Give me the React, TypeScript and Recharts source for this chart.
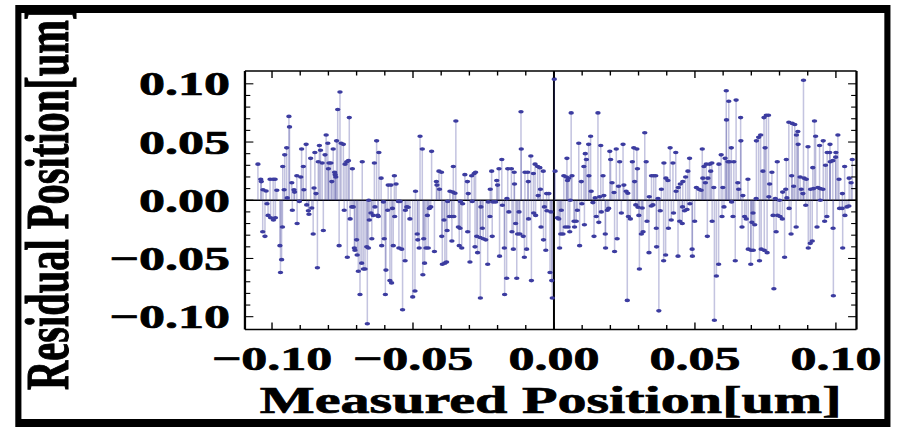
import React from 'react';
import { ScatterChart, Scatter, XAxis, YAxis, ErrorBar, ReferenceLine, Label } from 'recharts';

// the source picture is stretched sideways, so the chart is drawn narrow and scaled in x
const S = 1.53;
const W = 586;
const H = 432;

const FONT = "'Liberation Serif', 'Times New Roman', Times, serif";
const DOT = '#3c3ca0';
const STEM = 'rgba(61, 61, 153, 0.3)';

// measured position [um]
const measured = [
  -0.1050, -0.1040, -0.1038, -0.1033, -0.1032, -0.1025, -0.1021, -0.1018, -0.1014, -0.1007,
  -0.1005, -0.0996, -0.0995, -0.0989, -0.0988, -0.0983, -0.0972, -0.0970, -0.0966, -0.0963,
  -0.0962, -0.0957, -0.0955, -0.0948, -0.0946, -0.0940, -0.0938, -0.0930, -0.0928, -0.0922,
  -0.0920, -0.0912, -0.0911, -0.0903, -0.0898, -0.0895, -0.0889, -0.0887, -0.0879, -0.0877,
  -0.0871, -0.0869, -0.0863, -0.0859, -0.0854, -0.0851, -0.0848, -0.0844, -0.0839, -0.0836,
  -0.0832,
  -0.0828, -0.0822, -0.0818, -0.0812, -0.0808, -0.0802, -0.0800, -0.0798, -0.0791,
  -0.0788, -0.0783, -0.0778, -0.0776, -0.0774, -0.0771, -0.0767, -0.0762, -0.0759, -0.0755,
  -0.0747, -0.0744, -0.0741, -0.0735, -0.0733, -0.0729, -0.0726, -0.0723, -0.0717, -0.0715,
  -0.0712, -0.0708, -0.0706, -0.0700, -0.0698, -0.0694, -0.0688, -0.0682, -0.0680, -0.0676,
  -0.0670, -0.0664, -0.0662, -0.0658, -0.0657, -0.0655, -0.0649, -0.0646, -0.0641, -0.0637,
  -0.0635, -0.0629, -0.0625, -0.0623, -0.0621, -0.0613, -0.0611, -0.0605, -0.0602, -0.0598,
  -0.0596, -0.0590, -0.0588, -0.0582, -0.0578, -0.0576, -0.0570, -0.0566,
  -0.0573, -0.0565, -0.0560, -0.0552, -0.0550, -0.0546, -0.0540, -0.0537, -0.0528, -0.0527,
  -0.0522, -0.0517, -0.0511, -0.0501, -0.0493, -0.0491, -0.0485, -0.0483, -0.0478, -0.0475,
  -0.0467, -0.0465, -0.0462, -0.0459, -0.0454, -0.0449, -0.0446, -0.0442, -0.0437, -0.0434,
  -0.0424, -0.0417, -0.0415, -0.0408, -0.0406, -0.0399, -0.0398, -0.0396, -0.0390, -0.0387,
  -0.0381, -0.0379, -0.0377, -0.0371, -0.0369, -0.0363, -0.0362, -0.0359, -0.0357, -0.0355,
  -0.0351, -0.0348, -0.0339, -0.0336, -0.0333, -0.0332, -0.0327, -0.0324, -0.0316, -0.0307,
  -0.0304, -0.0298,
  -0.0306, -0.0292, -0.0290, -0.0283, -0.0280, -0.0278, -0.0274, -0.0271, -0.0262, -0.0261,
  -0.0259, -0.0254, -0.0251, -0.0242, -0.0235, -0.0233, -0.0227, -0.0226, -0.0221, -0.0219,
  -0.0216, -0.0207, -0.0203, -0.0200, -0.0195, -0.0193, -0.0185, -0.0183, -0.0176, -0.0175,
  -0.0168, -0.0167, -0.0164, -0.0160, -0.0151, -0.0149, -0.0144, -0.0141, -0.0140, -0.0136,
  -0.0132, -0.0129, -0.0124, -0.0121, -0.0117, -0.0116, -0.0109, -0.0105, -0.0103, -0.0097,
  -0.0093, -0.0091, -0.0090, -0.0082, -0.0080, -0.0073, -0.0072, -0.0067, -0.0065, -0.0058,
  -0.0056, -0.0050, -0.0048, -0.0046, -0.0038, -0.0037, -0.0034, -0.0029, -0.0026, -0.0025,
  -0.0018, -0.0014, -0.0011, -0.0008, -0.0006, 0.0001, 0.0004,
  0.0012, 0.0017, 0.0020, 0.0024, 0.0026, 0.0032, 0.0035, 0.0040, 0.0044, 0.0046,
  0.0048, 0.0050, 0.0052, 0.0056, 0.0058, 0.0061, 0.0064, 0.0071, 0.0073, 0.0079,
  0.0083, 0.0088, 0.0091, 0.0097, 0.0099, 0.0106, 0.0108, 0.0111, 0.0115, 0.0123,
  0.0124, 0.0130, 0.0132, 0.0138, 0.0142, 0.0146, 0.0150, 0.0156, 0.0159, 0.0162,
  0.0166, 0.0168, 0.0174, 0.0177, 0.0182, 0.0183, 0.0189, 0.0194, 0.0198, 0.0201,
  0.0206, 0.0213, 0.0215, 0.0221, 0.0224, 0.0229, 0.0233, 0.0239, 0.0245, 0.0248,
  0.0256, 0.0260,
  0.0262, 0.0264, 0.0271, 0.0278, 0.0283, 0.0286, 0.0290, 0.0294, 0.0296, 0.0298,
  0.0301, 0.0303, 0.0310, 0.0313, 0.0316, 0.0322, 0.0327, 0.0330, 0.0337, 0.0338,
  0.0345, 0.0346, 0.0351, 0.0354, 0.0361, 0.0363, 0.0364, 0.0369, 0.0372, 0.0377,
  0.0381, 0.0389, 0.0390, 0.0396, 0.0397, 0.0404, 0.0406, 0.0412, 0.0416, 0.0422,
  0.0424, 0.0432, 0.0433, 0.0440, 0.0441, 0.0446, 0.0448, 0.0455, 0.0456, 0.0457,
  0.0463, 0.0467, 0.0472, 0.0475, 0.0481, 0.0482, 0.0490, 0.0491, 0.0499, 0.0505,
  0.0514, 0.0522, 0.0526,
  0.0528, 0.0532, 0.0537, 0.0540, 0.0544, 0.0546, 0.0552, 0.0556, 0.0560, 0.0561,
  0.0567, 0.0569, 0.0576, 0.0584, 0.0585, 0.0593, 0.0596, 0.0599, 0.0603, 0.0607,
  0.0611, 0.0612, 0.0617, 0.0620, 0.0623, 0.0629, 0.0630, 0.0635, 0.0638, 0.0643,
  0.0646, 0.0652, 0.0655, 0.0662, 0.0663, 0.0667, 0.0670, 0.0676, 0.0682, 0.0688,
  0.0689, 0.0698, 0.0699, 0.0702, 0.0706, 0.0707, 0.0712, 0.0717, 0.0718, 0.0726,
  0.0729, 0.0733, 0.0735, 0.0741, 0.0745, 0.0746, 0.0749, 0.0753, 0.0756, 0.0761,
  0.0762, 0.0765, 0.0773, 0.0777, 0.0780, 0.0785, 0.0788, 0.0792,
  0.0800, 0.0793, 0.0802, 0.0810, 0.0811, 0.0818, 0.0822, 0.0824, 0.0826, 0.0833,
  0.0834, 0.0841, 0.0843, 0.0845, 0.0850, 0.0854, 0.0859, 0.0860, 0.0865, 0.0866,
  0.0873, 0.0877, 0.0883, 0.0885, 0.0887, 0.0893, 0.0895, 0.0901, 0.0902, 0.0909,
  0.0910, 0.0916, 0.0918, 0.0921, 0.0924, 0.0928, 0.0933, 0.0936, 0.0942, 0.0944,
  0.0945, 0.0954, 0.0955, 0.0960, 0.0963, 0.0968, 0.0969, 0.0978, 0.0979, 0.0980,
  0.0989, 0.0990, 0.0991, 0.0999, 0.1000, 0.1007, 0.1011, 0.1013, 0.1022, 0.1023,
  0.1024, 0.1031, 0.1032, 0.1039, 0.1046, 0.1047, 0.1054, 0.1058,
];

// residual position [um]
const residual = [
  0.031, 0.018, 0.016, -0.027, 0.009, -0.031, 0.008, -0.003, -0.013, 0.018,
  -0.015, 0.018, -0.017, 0.018, -0.015, 0.0086, -0.039, -0.062, -0.051, -0.023,
  0.029, 0.009, 0.039, 0.045, 0.002, 0.072, 0.063, 0.015, -0.0086, 0.009,
  0.007, 0.021, -0.020, -0.001, 0.020, 0.044, 0.029, 0.009, 0.048, -0.004,
  -0.009, -0.012, 0.036, -0.0066, -0.029, 0.0105, 0.041, 0.0057, -0.058, 0.033,
  0.047,
  0.043, 0.032, -0.026, 0.039, 0.056, 0.049, 0.027, 0.032, 0.032,
  0.016, 0.044, 0.024, 0.022, 0.020, 0.051, 0.078, -0.039, 0.093, 0.049,
  0.048, -0.0086, 0.031, 0.033, -0.049, 0.034, 0.071, -0.016, -0.0057, 0.027,
  -0.0057, -0.041, -0.043, -0.034, -0.047, -0.061, -0.081, -0.054, 0.033, -0.059,
  -0.059, -0.040, -0.106, -0.041, 0.000, -0.017, -0.011, -0.033, -0.013, 0.032,
  -0.0057, 0.051, -0.013, -0.014, 0.041, 0.019, -0.039, -0.0014, -0.033, -0.081,
  -0.060, -0.0086, 0.013, -0.069, 0.013, -0.071, -0.039, 0.021,
  -0.007, -0.014, 0.014, -0.001, -0.041, -0.001, -0.042, -0.094, -0.052, -0.0086,
  -0.0057, -0.006, -0.016, -0.083, -0.078, 0.0077, -0.029, -0.034, -0.041, 0.055,
  0.044, -0.064, -0.033, -0.054, -0.041, -0.013, -0.041, -0.007, -0.0057, 0.042,
  -0.044, 0.016, 0.013, 0.025, 0.0094, 0.024, -0.031, -0.055, -0.017, -0.054,
  -0.053, -0.026, -0.001, -0.014, 0.0077, -0.014, -0.035, 0.007, 0.029, -0.014,
  0.006, 0.068, -0.023, -0.039, -0.024, -0.001, -0.041, -0.003, 0.022, 0.016,
  0.0057, -0.053,
  -0.027, 0.021, -0.001, 0.023, -0.040, 0.024, -0.031, -0.045, -0.032, -0.084,
  -0.0057, -0.024, -0.033, -0.034, -0.055, -0.0014, -0.014, 0.0094, 0.025, -0.031,
  -0.0014, -0.0014, 0.017, 0.013, 0.027, -0.048, 0.035, -0.0043, -0.041, -0.081,
  -0.067, 0.0014, 0.027, -0.010, 0.027, -0.027, -0.042, 0.024, 0.014, -0.020,
  -0.067, -0.029, -0.010, -0.029, 0.076, 0.044, -0.031, -0.049, 0.024, -0.042,
  0.024, 0.016, -0.016, 0.038, -0.069, 0.023, -0.011, 0.031, -0.013, 0.029,
  0.004, 0.028, 0.0094, -0.023, 0.025, -0.034, -0.0057, -0.043, 0.0057, -0.009,
  0.0057, -0.062, -0.010, -0.069, -0.084, 0.104, 0.025,
  -0.015, -0.016, -0.041, -0.029, -0.0086, -0.029, 0.021, -0.023, 0.020, 0.036,
  0.017, -0.023, 0.019, -0.027, 0.000, 0.075, 0.021, -0.018, -0.023, -0.018,
  -0.0086, 0.049, -0.039, 0.016, -0.003, 0.029, -0.021, 0.040, 0.035, 0.048,
  0.021, 0.055, 0.0077, -0.002, -0.031, 0.002, -0.014, 0.075, -0.019, 0.003,
  0.047, -0.010, 0.021, 0.004, -0.029, -0.041, -0.0086, -0.007, 0.042, 0.035,
  0.015, 0.0066, -0.044, 0.044, -0.033, 0.012, 0.033, -0.011, 0.048, 0.013,
  0.0077, -0.086,
  0.006, -0.014, -0.016, 0.033, 0.045, 0.016, -0.004, 0.044, 0.027, -0.006,
  -0.013, -0.059, -0.029, -0.0066, -0.027, 0.058, 0.033, -0.018, -0.045, 0.003,
  -0.005, 0.021, -0.004, 0.021, 0.021, -0.024, -0.040, 0.0014, -0.095, -0.009,
  0.0094, -0.052, 0.032, -0.047, 0.019, 0.017, -0.024, 0.045, -0.017, 0.032,
  -0.011, 0.041, 0.0077, -0.048, 0.011, -0.018, 0.014, -0.020, -0.0057, 0.016,
  -0.009, 0.020, -0.008, 0.025, 0.036, -0.003, -0.042, -0.048, -0.018, 0.011,
  0.0094, 0.0086, 0.044,
  0.019, 0.029, 0.015, 0.031, -0.031, 0.019, 0.031, 0.025, 0.032, -0.018,
  0.011, -0.103, -0.065, -0.055, 0.031, 0.039, -0.014, 0.011, -0.0057, 0.036,
  0.094, 0.069, 0.033, 0.085, 0.033, 0.045, -0.0014, -0.014, 0.033, -0.052,
  0.086, 0.015, 0.0094, 0.071, 0.051, -0.023, 0.004, -0.014, -0.016, 0.018,
  -0.042, -0.055, -0.043, -0.019, -0.011, -0.043, -0.021, 0.0014, 0.051, 0.054,
  -0.052, 0.056, -0.042, 0.025, 0.071, -0.043, 0.045, 0.073, -0.045, 0.073,
  0.003, 0.014, 0.024, -0.013, -0.076, 0.0014, -0.027, 0.033,
  0.000, -0.013, -0.014, -0.016, 0.007, -0.049, 0.0094, 0.035, 0.002, 0.067,
  -0.007, -0.029, 0.021, 0.066, 0.012, 0.065, -0.023, 0.056, 0.059, 0.048,
  0.020, 0.0094, 0.0057, 0.103, 0.019, -0.0043, 0.018, 0.046, -0.041, -0.037,
  0.0094, -0.035, 0.028, 0.010, 0.068, 0.055, -0.023, 0.011, 0.047, 0.010,
  0.000, 0.0094, 0.051, -0.018, 0.030, -0.014, 0.041, 0.041, 0.048, 0.033,
  0.034, -0.024, -0.082, 0.037, 0.041, 0.056, 0.018, -0.007, -0.007, 0.0057,
  -0.041, 0.029, -0.013, -0.0057, -0.005, 0.019, 0.015, 0.035,
];

const xDomain = [-0.1096, 0.1073];
const yDomain = [-0.111, 0.111];

const frameTicks = [
  -0.10, -0.09, -0.08, -0.07, -0.06, -0.05, -0.04, -0.03, -0.02, -0.01, 0,
  0.01, 0.02, 0.03, 0.04, 0.05, 0.06, 0.07, 0.08, 0.09, 0.10,
];
const labelledTicks = [-0.10, -0.05, 0, 0.05, 0.10];

const data = measured.map((x, i) => {
  const y = residual[i];
  return { x, y, stem: y > 0 ? [y, 0] : [0, -y] };
});

const isLabelled = (v: number) => labelledTicks.some(t => Math.abs(t - v) < 1e-9);
const fmt = (v: number) => (v < -1e-9 ? '\u2212' : '') + Math.abs(v).toFixed(2);

// heavy serif like the original's bold Times
const textStyle = {
  fontFamily: FONT, fontWeight: 700, fontSize: 34, fill: '#000', stroke: '#000', strokeWidth: 0.7,
} as const;

const BottomTick = ({ x, y, payload }: any) => {
  const major = isLabelled(payload.value);
  return (
    <g>
      <line x1={x} y1={y} x2={x} y2={y - (major ? 7 : 4.5)} stroke="#000" strokeWidth={0.9} />
      {major && (
        <text x={x} y={y + 40.5} textAnchor="middle" style={textStyle}>{fmt(payload.value)}</text>
      )}
    </g>
  );
};

const TopTick = ({ x, y, payload }: any) => {
  const major = isLabelled(payload.value);
  return <line x1={x} y1={y} x2={x} y2={y + (major ? 7 : 4.5)} stroke="#000" strokeWidth={0.9} />;
};

const LeftTick = ({ x, y, payload }: any) => {
  const major = isLabelled(payload.value);
  return (
    <g>
      <line x1={x} y1={y} x2={x + (major ? 5.5 : 3.5)} y2={y} stroke="#000" strokeWidth={1.1} />
      {major && (
        <text x={x - 9.8} y={y + 11.5} textAnchor="end" style={textStyle}>{fmt(payload.value)}</text>
      )}
    </g>
  );
};

const RightTick = ({ x, y, payload }: any) => {
  const major = isLabelled(payload.value);
  return <line x1={x} y1={y} x2={x - (major ? 5.5 : 3.5)} y2={y} stroke="#000" strokeWidth={1.1} />;
};

const Dot = ({ cx, cy }: any) => <circle cx={cx} cy={cy} r={1.8} fill={DOT} />;

const frameLine = { stroke: '#000', strokeWidth: 1.5 };

export default function App() {
  return (
    <div style={{ position: 'absolute', left: 0, top: 0, width: 897, height: 432, background: '#fff', overflow: 'hidden' }}>
      <div style={{ position: 'absolute', left: 0, top: 0, width: W, height: H, transform: `scaleX(${S})`, transformOrigin: '0 0' }}>
        <div
          style={{
            position: 'absolute', left: 9.8, top: 5, width: 572, height: 422,
            boxSizing: 'border-box', border: '0 solid #000', borderWidth: '8px 4.6px',
          }}
        />
        <ScatterChart
          width={W}
          height={H}
          margin={{ top: 70, right: 25.2, bottom: 62.5, left: 120.1 }}
          style={{ position: 'absolute', left: 0, top: 0 }}
        >
          <XAxis
            type="number" dataKey="x" domain={xDomain} allowDataOverflow ticks={frameTicks} interval={0}
            height={40} tickSize={0} tickMargin={0} tickLine={false} axisLine={frameLine} tick={<BottomTick />}
          >
            <Label
              content={({ viewBox }: any) => {
                const vb = viewBox || { x: 160, width: 400 };
                return (
                  <text x={vb.x + vb.width / 2} y={413} textAnchor="middle" style={{ ...textStyle, fontSize: 38 }}>
                    Measured Position[um]
                  </text>
                );
              }}
            />
          </XAxis>
          <XAxis
            xAxisId="top" orientation="top" type="number" dataKey="x" domain={xDomain} allowDataOverflow ticks={frameTicks}
            interval={0} height={1} tickSize={0} tickMargin={0} tickLine={false} axisLine={frameLine} tick={<TopTick />}
          />
          <YAxis
            type="number" dataKey="y" domain={yDomain} allowDataOverflow ticks={frameTicks} interval={0}
            width={40} tickSize={0} tickMargin={0} tickLine={false} axisLine={frameLine} tick={<LeftTick />}
          >
            <Label
              content={({ viewBox }: any) => {
                const vb = viewBox || { y: 71, height: 258.5 };
                const cy = vb.y + vb.height / 2 - 2;
                return (
                  <text x={44.5} y={cy} transform={`rotate(-90 44.5 ${cy})`} textAnchor="middle" style={{ ...textStyle, fontSize: 40.5 }}>
                    Residual Position[um]
                  </text>
                );
              }}
            />
          </YAxis>
          <YAxis
            yAxisId="right" orientation="right" type="number" dataKey="y" domain={yDomain} allowDataOverflow ticks={frameTicks}
            interval={0} width={1} tickSize={0} tickMargin={0} tickLine={false} axisLine={frameLine} tick={<RightTick />}
          />
          <ReferenceLine x={0} stroke="#000" strokeWidth={1.3} />
          <ReferenceLine y={0} stroke="#000" strokeWidth={1.4} />
          <Scatter data={data} shape={<Dot />} isAnimationActive={false}>
            <ErrorBar dataKey="stem" direction="y" width={0} stroke={STEM} strokeWidth={1} isAnimationActive={false} />
          </Scatter>
        </ScatterChart>
      </div>
    </div>
  );
}
